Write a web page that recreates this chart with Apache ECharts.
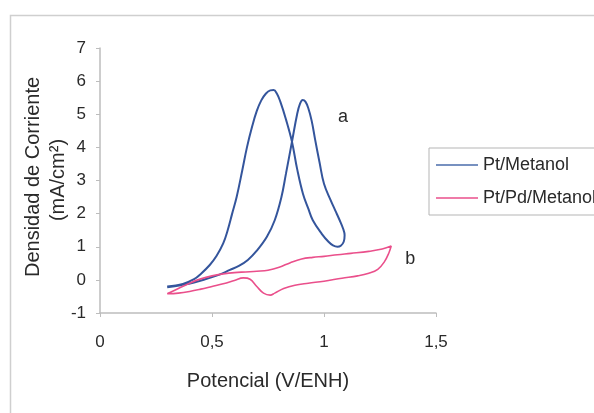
<!DOCTYPE html>
<html>
<head>
<meta charset="utf-8">
<script src="https://cdn.jsdelivr.net/npm/echarts@6/dist/echarts.min.js"></script>
<style>
  html, body { margin: 0; padding: 0; background: #fff; }
  #chart { width: 594px; height: 413px; }
</style>
</head>
<body>
<div id="chart"></div>
<script>
// Pt/Metanol loop (forward then back), [potencial V, densidad mA/cm2]
var ptMetanol = [
  [0.30, -0.20], [0.37, -0.12], [0.42, 0.02], [0.45, 0.18], [0.49, 0.45],
  [0.52, 0.72], [0.55, 1.10], [0.57, 1.50], [0.59, 2.00], [0.61, 2.50],
  [0.635, 3.30], [0.656, 4.00], [0.68, 4.65], [0.70, 5.10], [0.72, 5.42],
  [0.74, 5.62], [0.76, 5.72], [0.775, 5.73], [0.79, 5.62], [0.805, 5.38],
  [0.83, 4.85], [0.857, 4.17], [0.88, 3.35], [0.906, 2.60], [0.93, 2.15],
  [0.95, 1.80], [0.99, 1.39], [1.02, 1.15], [1.04, 1.04], [1.06, 1.00],
  [1.075, 1.03], [1.088, 1.15], [1.092, 1.35], [1.085, 1.55], [1.07, 1.80],
  [1.05, 2.10], [1.03, 2.40], [1.00, 2.90], [0.98, 3.55], [0.96, 4.25],
  [0.945, 4.80], [0.93, 5.18], [0.917, 5.38], [0.905, 5.43], [0.893, 5.32],
  [0.88, 5.00], [0.857, 4.17], [0.83, 3.20], [0.81, 2.50], [0.78, 1.80],
  [0.745, 1.30], [0.70, 0.88], [0.66, 0.60], [0.62, 0.42], [0.58, 0.30],
  [0.53, 0.15], [0.48, 0.04], [0.42, -0.08], [0.36, -0.16], [0.30, -0.22]
];

// Pt/Pd/Metanol loop
var ptPdMetanol = [
  [0.30, -0.42], [0.35, -0.26], [0.40, -0.10], [0.45, 0.03], [0.50, 0.12],
  [0.55, 0.18], [0.60, 0.22], [0.65, 0.24], [0.70, 0.26], [0.75, 0.29],
  [0.80, 0.38], [0.85, 0.52], [0.90, 0.63], [0.95, 0.68], [1.00, 0.71],
  [1.06, 0.76], [1.12, 0.80], [1.20, 0.86], [1.26, 0.93], [1.30, 1.02],
  [1.29, 0.82], [1.27, 0.55], [1.24, 0.32], [1.20, 0.20], [1.15, 0.12],
  [1.08, 0.05], [1.00, -0.04], [0.93, -0.10], [0.87, -0.16], [0.82, -0.26],
  [0.78, -0.40], [0.76, -0.46], [0.73, -0.40], [0.70, -0.20], [0.67, 0.02],
  [0.64, 0.06], [0.60, -0.02], [0.55, -0.12], [0.50, -0.20], [0.45, -0.28],
  [0.40, -0.35], [0.35, -0.40], [0.30, -0.42]
];

var xTicks = [0, 0.5, 1, 1.5];
var yTicks = [-1, 0, 1, 2, 3, 4, 5, 6, 7];
var seriesNames = ['Pt/Metanol', 'Pt/Pd/Metanol'];
var notes = [
  { text: 'a', at: [1.085, 4.92] },
  { text: 'b', at: [1.385, 0.63] }
];

var chart = echarts.init(document.getElementById('chart'));
var font = 'Liberation Sans, Arial, sans-serif';

var option = {
  animation: false,
  backgroundColor: '#fff',
  textStyle: { fontFamily: font },
  grid: { left: 100, right: 158, top: 48, bottom: 100 },
  xAxis: {
    type: 'value',
    min: xTicks[0],
    max: xTicks[xTicks.length - 1],
    interval: 0.5,
    name: 'Potencial (V/ENH)',
    nameLocation: 'middle',
    nameGap: 58,
    nameTextStyle: { fontSize: 20, color: '#2a2a2a' },
    axisLine: { show: true, onZero: false, lineStyle: { color: '#bdbdbd', width: 1.5 } },
    axisTick: { show: true, length: 4, lineStyle: { color: '#bdbdbd' } },
    splitLine: { show: false },
    axisLabel: {
      fontSize: 17, color: '#2a2a2a', margin: 21,
      formatter: function (v) { return String(v).replace('.', ','); }
    }
  },
  yAxis: {
    type: 'value',
    min: yTicks[0],
    max: yTicks[yTicks.length - 1],
    interval: 1,
    axisLine: { show: true, onZero: false, lineStyle: { color: '#bdbdbd', width: 1.5 } },
    axisTick: { show: true, length: 4, lineStyle: { color: '#bdbdbd' } },
    splitLine: { show: false },
    axisLabel: { fontSize: 17, color: '#2a2a2a', margin: 14 }
  },
  legend: {
    orient: 'vertical',
    left: 429,
    top: 148,
    icon: 'rect',
    itemWidth: 42,
    itemHeight: 1.5,
    itemGap: 15,
    padding: [8, 40, 8, 7],
    borderColor: '#b5b5b5',
    borderWidth: 1,
    textStyle: { fontSize: 18, color: '#2a2a2a', lineHeight: 18 },
    data: seriesNames
  },
  series: [
    {
      name: seriesNames[0],
      type: 'line',
      data: ptMetanol,
      symbol: 'none',
      smooth: 0.4,
      lineStyle: { color: '#34559c', width: 2 },
      itemStyle: { color: '#4a6cab' }
    },
    {
      name: seriesNames[1],
      type: 'line',
      data: ptPdMetanol,
      symbol: 'none',
      smooth: 0.4,
      lineStyle: { color: '#ea4f8b', width: 1.6 },
      itemStyle: { color: '#ea4f8b' }
    }
  ]
};

chart.setOption(option);

// outer frame, axis title on the left and the a / b notes
var g = [
  {
    type: 'rect', left: 8, top: 13,
    shape: { width: 700, height: 500 },
    style: { fill: 'none', stroke: '#cfcfcf', lineWidth: 1.5 }
  },
  {
    type: 'text', x: 33, y: 177, rotation: Math.PI / 2,
    style: { text: 'Densidad de Corriente', font: '20px ' + font, fill: '#2a2a2a',
             textAlign: 'center', textVerticalAlign: 'middle' }
  },
  {
    type: 'text', x: 58, y: 180, rotation: Math.PI / 2,
    style: { text: '(mA/cm²)', font: '20px ' + font, fill: '#2a2a2a',
             textAlign: 'center', textVerticalAlign: 'middle' }
  }
];
notes.forEach(function (n) {
  var p = chart.convertToPixel({ gridIndex: 0 }, n.at);
  g.push({
    type: 'text', x: p[0], y: p[1],
    style: { text: n.text, font: '18px ' + font, fill: '#2a2a2a',
             textAlign: 'center', textVerticalAlign: 'middle' }
  });
});
chart.setOption({ graphic: g });
</script>
</body>
</html>
